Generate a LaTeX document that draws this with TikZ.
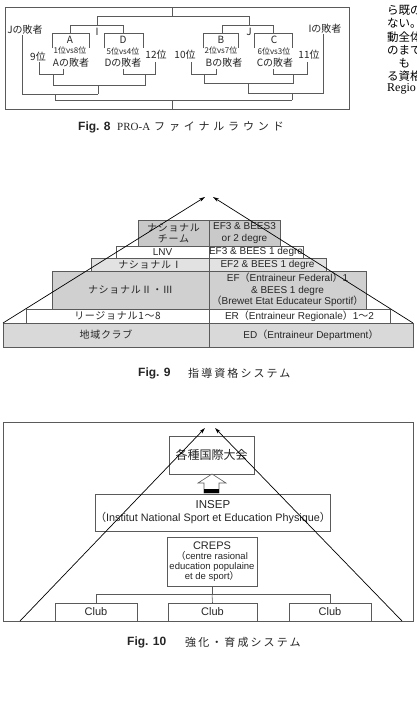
\documentclass[tikz,border=0pt]{standalone}
\usepackage{fontspec}
\setmainfont{Liberation Sans}
\newfontfamily\jp{Noto Sans CJK JP}
\newfontfamily\jpsp[LetterSpace=7]{Noto Sans CJK JP}
\newfontfamily\jpcap[LetterSpace=19]{Noto Sans CJK JP}
\newfontfamily\jpcapw[LetterSpace=35]{Noto Sans CJK JP}
\newfontfamily\serifx{Liberation Serif}
\usetikzlibrary{arrows.meta}
\newcommand\lp{{\jp （}}
\newcommand\rp{{\jp ）}}
\newcommand\wv{{\jp 〜}}
\definecolor{gA}{HTML}{C9C9C9}
\definecolor{gB}{HTML}{E2E2E2}
\definecolor{gC}{HTML}{D0D0D0}
\definecolor{gD}{HTML}{D9D9D9}
\definecolor{ln}{HTML}{5A5A5A}
\definecolor{tx}{HTML}{262626}
\begin{document}
\begin{tikzpicture}[x=1pt,y=-1pt,
  br/.style={draw=ln,line width=0.6pt},
  lbl/.style={inner sep=0pt,text=tx,font=\jp\fontsize{10}{11}\selectfont},
  small/.style={inner sep=0pt,text=tx,font=\jp\fontsize{8}{9}\selectfont},
  cell/.style={draw=ln,line width=0.6pt,inner sep=0pt,outer sep=0pt,align=center,text=tx,
    font=\fontsize{10}{11.5}\selectfont},
  jcell/.style={cell,font=\jpsp\fontsize{10}{11}\selectfont},
  bx/.style={draw=ln,line width=0.6pt,fill=white,inner sep=0pt,outer sep=0pt,align=center,text=tx,
    font=\fontsize{10.8}{13}\selectfont},
  arr/.style={draw=black,line width=0.7pt,-{Stealth[length=6pt,width=3.5pt]}},
  capf/.style={inner sep=0pt,anchor=west,font=\bfseries\fontsize{12}{14}\selectfont,text=tx},
  capj/.style={inner sep=0pt,anchor=west,text=tx},
  body/.style={inner sep=0pt,anchor=west,text=black,font=\jp\fontsize{11.5}{13}\selectfont}]
\useasboundingbox[fill=white] (0,0) rectangle (417,718);

% ================= Fig. 8 =================
\draw[br] (5,7) rectangle (349,109);
\draw[br] (172,7) -- (172,16);
\draw[br] (97,25) -- (97,16) -- (249,16) -- (249,25);
\draw[br] (70,33) -- (70,25) -- (123,25) -- (123,33);
\draw[br] (52,48) -- (52,33) -- (89,33) -- (89,48);
\draw[br] (104,48) -- (104,33) -- (143,33) -- (143,48);
\draw[br] (222,33) -- (222,25) -- (273,25) -- (273,33);
\draw[br] (203,48) -- (203,33) -- (238,33) -- (238,48);
\draw[br] (254,48) -- (254,33) -- (292,33) -- (292,48);
% lower left
\draw[br] (39,62) -- (39,74) -- (63,74) -- (63,69);
\draw[br] (123,69) -- (123,74) -- (155,74) -- (155,62);
\draw[br] (53,74) -- (53,85) -- (145,85) -- (145,74);
\draw[br] (98,85) -- (98,94);
\draw[br] (22,35) -- (22,94) -- (98,94);
\draw[br] (55,94) -- (55,100) -- (292,100);
\draw[br] (172,100) -- (172,109);
% lower right
\draw[br] (191,62) -- (191,74) -- (216,74) -- (216,69);
\draw[br] (273,69) -- (273,74) -- (307,74) -- (307,62);
\draw[br] (204,74) -- (204,83) -- (293,83) -- (293,74);
\draw[br] (248,83) -- (248,93) -- (323,93) -- (323,34);
\draw[br] (292,93) -- (292,100);

\node[lbl] (jl) at (25,30) {Jの敗者};
\node[lbl] (il) at (325,29) {Iの敗者};
\node[lbl] (mI) at (97,32) {I};
\node[lbl] (mJ) at (249,32) {J};
\node[lbl] (nA) at (70,40) {A};
\node[small] (sA) at (70,50) {1位vs8位};
\node[lbl] (lA) at (71,63) {Aの敗者};
\node[lbl] (nD) at (123,40) {D};
\node[small] (sD) at (123,51) {5位vs4位};
\node[lbl] (lD) at (123,63) {Dの敗者};
\node[lbl] (r9) at (38,57) {9位};
\node[lbl] (r12) at (156,55) {12位};
\node[lbl] (nB) at (221,40) {B};
\node[small] (sB) at (221,50) {2位vs7位};
\node[lbl] (lB) at (224,63) {Bの敗者};
\node[lbl] (nC) at (274,40) {C};
\node[small] (sC) at (274,51) {6位vs3位};
\node[lbl] (lC) at (275,63) {Cの敗者};
\node[lbl] (r10) at (185,55) {10位};
\node[lbl] (r11) at (309,55) {11位};

\node[capf] (c8a) at (78,127) {Fig. 8};
\node[capj,font=\serifx\fontsize{11}{12}\selectfont] (c8b) at (117,127) {PRO-A};
\node[capj,font=\jpcapw\fontsize{11}{12}\selectfont] (c8c) at (154,127) {ファイナルラウンド};

% body text clipped at right edge
\begin{scope}
\clip (350,0) rectangle (417,100);
\node[body] (t1) at (387,10) {ら既の};
\node[body] (t2) at (387,23) {ない。};
\node[body] (t3) at (387,37) {動全体};
\node[body] (t4) at (387,50) {のまで};
\node[body] (t5) at (387,63) {　も};
\node[body] (t6) at (387,76) {る資格};
\node[body,font=\serifx\fontsize{12}{13}\selectfont] (t7) at (387,89) {Regio};
\end{scope}

% ================= Fig. 9 =================
\node[jcell,fill=gA,minimum width=71pt,minimum height=26pt] (l1) at (173.5,233) {ナショナル\\チーム};
\node[cell,fill=gA,minimum width=71pt,minimum height=26pt] (r1) at (244.5,233) {EF3 \& BEES3\\or 2 degre};
\node[cell,fill=white,minimum width=93pt,minimum height=12pt] (l2) at (162.5,252) {LNV};
\node[cell,fill=white,minimum width=94pt,minimum height=12pt] (r2) at (256,252) {EF3 \& BEES 1 degre};
\node[jcell,fill=gB,minimum width=118pt,minimum height=13pt] (l3) at (150,264.5) {ナショナルⅠ};
\node[cell,fill=gB,minimum width=117pt,minimum height=13pt] (r3) at (267.5,264.5) {EF2 \& BEES 1 degre};
\node[jcell,fill=gC,minimum width=157pt,minimum height=38pt] (l4) at (130.5,290) {ナショナルⅡ・Ⅲ};
\node[cell,fill=gC,minimum width=157pt,minimum height=38pt] (r4) at (287.5,290) {EF\lp Entraineur Federal\rp 1\\\& BEES 1 degre\\\lp Brewet Etat Educateur Sportif\rp};
\node[jcell,fill=white,minimum width=183pt,minimum height=14pt] (l5) at (117.5,316) {リージョナル1〜8};
\node[cell,fill=white,minimum width=181pt,minimum height=14pt] (r5) at (299.5,316) {ER\lp Entraineur Regionale\rp 1\wv 2};
\node[jcell,fill=gD,minimum width=206pt,minimum height=24pt] (l6) at (106,335) {地域クラブ};
\node[cell,fill=gD,minimum width=204pt,minimum height=24pt] (r6) at (311,335) {ED\lp Entraineur Department\rp};

\coordinate (p9l) at (3,323);
\coordinate (p9r) at (413,323);
\coordinate (a9l) at (205,197);
\coordinate (a9r) at (213,197);
\draw[arr] (p9l) -- (a9l);
\draw[arr] (p9r) -- (a9r);

\node[capf] (c9a) at (138,373) {Fig. 9};
\node[capj,font=\jpcap\fontsize{11}{12}\selectfont] (c9b) at (188,373) {指導資格システム};

% ================= Fig. 10 =================
\draw[br] (3,422) rectangle (413,621);
\node[bx,minimum width=85pt,minimum height=38pt,font=\jp\fontsize{12}{13}\selectfont] (intl) at (211.5,455) {各種国際大会};
\draw[draw=ln,line width=0.6pt,fill=white] (212,474) -- (226,483) -- (219,483) -- (219,493) -- (204,493) -- (204,483) -- (198,483) -- cycle;
\fill[black] (204,489) rectangle (219,493);
\node[bx,minimum width=232pt,minimum height=37pt] (insep) at (213,512.5) {{\fontsize{11.5}{13}\selectfont INSEP}\\\lp Institut National Sport et Education Physique\rp};
\node[bx,minimum width=90pt,minimum height=49pt,font=\fontsize{9.5}{10.2}\selectfont] (creps) at (212,561.5) {{\fontsize{11}{11.5}\selectfont CREPS}\\\lp centre rasional\\education populaine\\et de sport\rp};
\node[bx,minimum width=82pt,minimum height=18pt,font=\fontsize{11}{12}\selectfont] (club1) at (96,612) {Club};
\node[bx,minimum width=89pt,minimum height=18pt,font=\fontsize{11}{12}\selectfont] (club2) at (212.5,612) {Club};
\node[bx,minimum width=82pt,minimum height=18pt,font=\fontsize{11}{12}\selectfont] (club3) at (330,612) {Club};
\coordinate (jn) at (212,594);
\draw[br] (creps.south) -- (jn);
\draw[br] (jn) -| (club1.north);
\draw[br] (jn) -| (club3.north);
\draw[br] (jn) -- (club2.north);

\coordinate (p10l) at (20,621);
\coordinate (p10r) at (402,621);
\coordinate (a10l) at (205,428);
\coordinate (a10r) at (215,428);
\draw[arr] (p10l) -- (a10l);
\draw[arr] (p10r) -- (a10r);

\node[capf] (c10a) at (127,642) {Fig. 10};
\node[capj,font=\jpcap\fontsize{11}{12}\selectfont] (c10b) at (185,642) {強化・育成システム};
\end{tikzpicture}
\end{document}
